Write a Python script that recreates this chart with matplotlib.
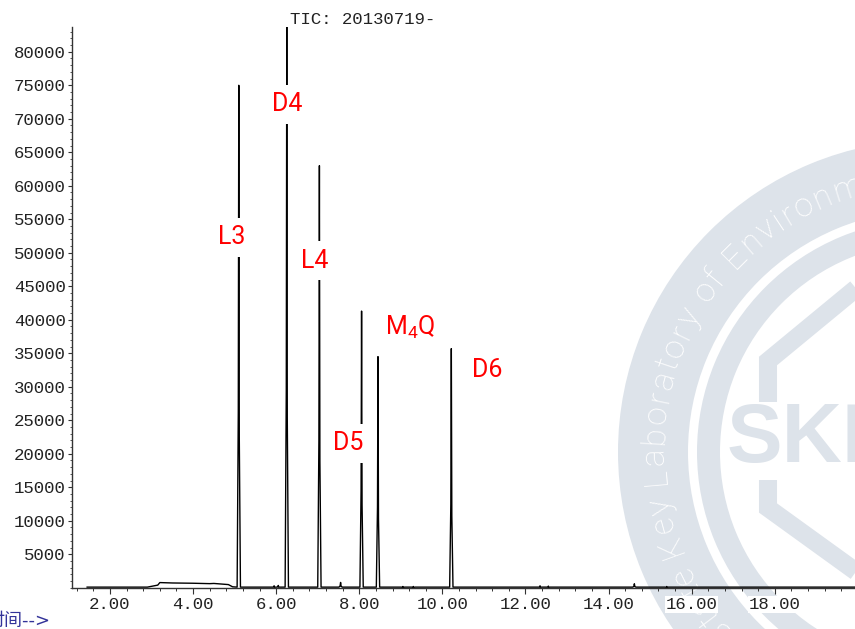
import matplotlib
matplotlib.use("Agg")
import matplotlib.pyplot as plt
import numpy as np
from matplotlib.patches import Wedge
from matplotlib.ticker import MultipleLocator, FixedLocator
from matplotlib.textpath import TextToPath
from matplotlib.font_manager import FontProperties

# labelled peaks: retention time (min) and abundance at apex
peak_names = ["L3", "D4", "L4", "D5", r"$\mathregular{M_4Q}$", "D6"]
peak_times = [5.10, 6.255, 7.04, 8.055, 8.45, 10.215]
peak_heights = [75000, 84500, 63000, 41300, 34500, 35700]

# where each name is written (time, abundance)
label_times = [4.94, 6.26, 6.93, 7.73, 9.22, 11.07]
label_heights = [52300, 72200, 48800, 21600, 38900, 32500]

# small unlabelled bumps on the baseline
minor_times = [5.95, 6.05, 7.55, 9.05, 9.30, 12.35, 12.55, 14.62, 15.40]
minor_heights = [300, 350, 800, 200, 200, 300, 250, 600, 200]

# baseline with the hump between 3 and 5 min
base_times = [1.45, 2.90, 3.15, 3.20, 3.50, 4.00, 4.40, 4.50, 4.85, 4.95, 19.95]
base_heights = [100, 100, 400, 780, 720, 680, 620, 650, 480, 150, 100]

y_ticks = list(range(5000, 80001, 5000))
x_ticks = [2, 4, 6, 8, 10, 12, 14, 16, 18]

# build the trace: baseline points plus a narrow triangle for every peak
pts = list(zip(base_times, base_heights))
for t, h in zip(peak_times + minor_times, peak_heights + minor_heights):
    pts += [(t - 0.04, 100), (t - 0.012, h * 0.35), (t, h), (t + 0.012, h * 0.3), (t + 0.04, 100)]
pts.sort()
trace_t = [p[0] for p in pts]
trace_y = [p[1] for p in pts]

W, H = 855, 629
fig = plt.figure(figsize=(W / 100, H / 100), dpi=100)

# ---- faint laboratory seal in the background (pixel coordinates) ----
wm = fig.add_axes([0, 0, 1, 1], zorder=0)
wm.set_xlim(0, W)
wm.set_ylim(H, 0)
wm.axis("off")
seal = "#dde3ea"
cx, cy = 930, 452
wm.add_patch(Wedge((cx, cy), 312, 0, 360, width=70, color=seal, lw=0))
wm.add_patch(Wedge((cx, cy), 233, 0, 360, width=23, color=seal, lw=0))
wm.plot([905, 768, 768], [248, 361, 402], color=seal, lw=13, solid_joinstyle="miter", solid_capstyle="butt")
wm.plot([768, 768, 905], [480, 508, 607], color=seal, lw=13, solid_joinstyle="miter", solid_capstyle="butt")
wm.text(727, 440, "SKL", color=seal, fontsize=60, fontweight="bold", family="Liberation Sans",
        va="center", ha="left", clip_on=True)

ring_text = "State Key Laboratory of Environmental Criteria and Risk Assessment"
prop = FontProperties(family="Roboto", weight="light", size=24)
ttp = TextToPath()


def advance(ch):
    a = ttp.get_text_width_height_descent("x" + ch + "x", prop, ismath=False)[0]
    b = ttp.get_text_width_height_descent("xx", prop, ismath=False)[0]
    return (a - b) * 100 / 72


r_txt = 279
adv = [advance(c) for c in ring_text]
centers = np.cumsum([0] + [a + 3 for a in adv[:-1]]) + np.array(adv) / 2
start = centers[ring_text.index("L")]
for ch, c in zip(ring_text, centers):
    phi = 185 - np.degrees((c - start) / r_txt)
    x = cx + r_txt * np.cos(np.radians(phi))
    y = cy - r_txt * np.sin(np.radians(phi))
    wm.text(x, y, ch, fontproperties=prop, color="white", rotation=phi - 90,
            rotation_mode="anchor", ha="center", va="center_baseline", clip_on=True)

# ---- chromatogram ----
ax = fig.add_axes([72 / W, 1 - 587.8 / H, (W - 72) / W, (587.8 - 27) / H], zorder=1)
ax.patch.set_alpha(0)
ax.plot(trace_t, trace_y, color="black", lw=1.0)
ax.set_xlim(1.086, 19.93)
ax.set_ylim(0, 83700)

for s in ["top", "right"]:
    ax.spines[s].set_visible(False)
for s in ["left", "bottom"]:
    ax.spines[s].set_color("#333333")
    ax.spines[s].set_linewidth(1.0)

mono = {"family": "Liberation Mono", "size": 12.5}
ax.xaxis.set_major_locator(FixedLocator(x_ticks))
ax.xaxis.set_minor_locator(MultipleLocator(0.4))
ax.set_xticklabels(["%.2f" % v for v in x_ticks], fontdict=mono, color="#222222")
ax.yaxis.set_major_locator(FixedLocator(y_ticks))
ax.yaxis.set_minor_locator(MultipleLocator(1000))
ax.set_yticklabels([str(v) for v in y_ticks], fontdict=mono, color="#222222")
ax.tick_params(axis="x", which="major", length=4.5, width=0.8, pad=2, color="#333333")
ax.tick_params(axis="x", which="minor", length=2.2, width=0.7, color="#333333")
ax.tick_params(axis="y", which="major", length=3, width=0.8, pad=1.5, color="#333333")
ax.tick_params(axis="y", which="minor", length=1.2, width=0.7, color="#555555")
for lbl in ax.get_xticklabels():
    lbl.set_bbox(dict(facecolor="white", edgecolor="none", pad=0.5))

for name, t, h in zip(peak_names, label_times, label_heights):
    ax.text(t, h, name, color="red", fontsize=18, family="Roboto", ha="center", va="center",
            zorder=3, bbox=dict(facecolor="white", edgecolor="none", boxstyle="square,pad=0.3"))

fig.text(290 / W, 1 - 19 / H, "TIC: 20130719-", ha="left", va="center",
         family="Liberation Mono", size=12.5, color="#222222")
fig.text(-13 / W, 1 - 621 / H, "时间-->", ha="left", va="center",
         family=["DejaVu Sans", "Noto Sans CJK SC"], size=13, color="#333399")

fig.savefig("out.png", dpi=100)
